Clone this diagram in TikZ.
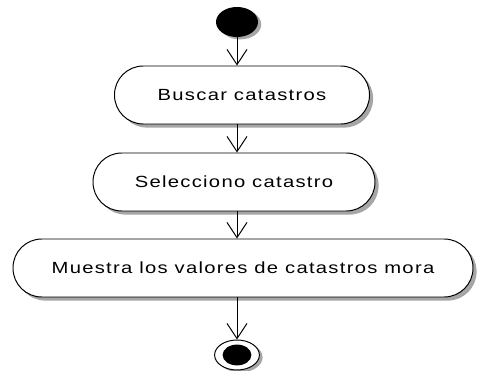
\documentclass[tikz,border=0pt]{standalone}
\usepackage{fontspec}
\setmainfont{Liberation Sans}
\newfontfamily\actfont[FakeStretch=1.25,LetterSpace=8]{Liberation Sans}
\usepackage{tikz}
\usetikzlibrary{arrows.meta,shadows,shapes.geometric}

\tikzset{
  activity/.style={draw,line width=0.7pt,fill=white,rounded corners=0.72cm,
    minimum height=1.45cm,font=\actfont\fontsize{11.5}{13}\selectfont,
    drop shadow={shadow xshift=0.09cm,shadow yshift=-0.09cm,fill=gray!70,opacity=1}},
  flow/.style={line width=0.7pt,-{Straight Barb[length=0.38cm,width=0.5cm,line width=0.7pt]}}
}

\begin{document}
\begin{tikzpicture}
\useasboundingbox (0,0) rectangle (12.025,-9.275);
% start and end states
\node[ellipse,fill=black,minimum width=1.05cm,minimum height=0.75cm,inner sep=0pt,
  drop shadow={shadow xshift=0.08cm,shadow yshift=-0.06cm,fill=gray!70,opacity=1}] (start) at (5.925,-0.55) {};
\node[activity,minimum width=6.375cm] (buscar) at (6.05,-2.375) {Buscar catastros};
\node[activity,minimum width=7.05cm] (selec) at (5.85,-4.55) {Selecciono catastro};
\node[activity,minimum width=11.5cm] (muestra) at (6.075,-6.7) {Muestra los valores de catastros mora};
\node[ellipse,draw,line width=0.7pt,fill=white,minimum width=1.12cm,minimum height=0.75cm,inner sep=0pt,
  drop shadow={shadow xshift=0.08cm,shadow yshift=-0.06cm,fill=gray!70,opacity=1}] (fin) at (5.925,-8.875) {};
\fill[black] (fin) ellipse (0.36 and 0.26);
% transitions
\draw[flow] (start) -- (start |- buscar.north);
\draw[flow] (start |- buscar.south) -- (start |- selec.north);
\draw[flow] (start |- selec.south) -- (start |- muestra.north);
\draw[flow] (start |- muestra.south) -- (fin);
\end{tikzpicture}
\end{document}
